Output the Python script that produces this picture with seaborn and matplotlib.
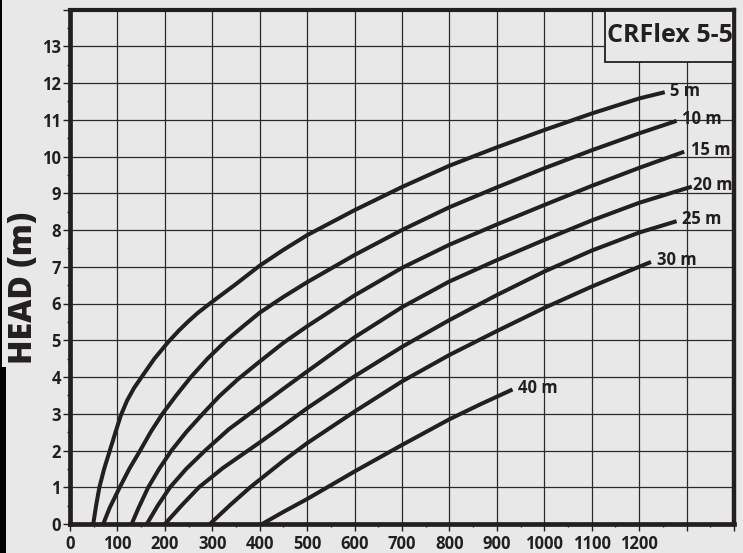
import numpy as np
import pandas as pd
import matplotlib
matplotlib.use("Agg")
import matplotlib.pyplot as plt
from matplotlib.patches import Rectangle
import seaborn as sns

# ---- data ----
flow_5 = [49, 55, 62, 72, 84, 96, 107, 120, 135, 151, 178, 207, 230, 250, 270, 295, 350,
          400, 450, 500, 600, 700, 800, 900, 1000, 1100, 1200, 1254]
head_5 = [0, 0.5, 1, 1.5, 2, 2.5, 2.95, 3.35, 3.7, 4, 4.5, 4.95, 5.27, 5.52, 5.75, 6.0, 6.53,
          7.03, 7.46, 7.86, 8.54, 9.17, 9.75, 10.25, 10.72, 11.17, 11.58, 11.75]

flow_10 = [70, 84, 105, 125, 148, 170, 195, 224, 255, 290, 330, 365, 400, 450, 500,
           600, 700, 800, 900, 1000, 1100, 1200, 1279]
head_10 = [0, 0.45, 1, 1.5, 2, 2.5, 3, 3.5, 4, 4.5, 5, 5.38, 5.75, 6.18, 6.58,
           7.32, 8.0, 8.62, 9.16, 9.68, 10.17, 10.63, 10.97]

flow_15 = [130, 145, 165, 188, 214, 245, 280, 315, 355, 400, 450, 500, 600, 700, 800,
           900, 1000, 1100, 1200, 1295]
head_15 = [0, 0.45, 1, 1.5, 2, 2.5, 3, 3.48, 3.95, 4.42, 4.93, 5.38, 6.22, 6.97, 7.6,
           8.15, 8.68, 9.2, 9.69, 10.13]

flow_20 = [162, 185, 211, 245, 285, 335, 400, 450, 500, 600, 700, 800, 900, 1000,
           1100, 1200, 1311]
head_20 = [0, 0.5, 1, 1.5, 2, 2.58, 3.2, 3.68, 4.15, 5.08, 5.9, 6.6, 7.18, 7.73,
           8.26, 8.74, 9.18]

flow_25 = [200, 235, 272, 322, 380, 400, 450, 500, 600, 700, 800, 900, 1000, 1100,
           1200, 1279]
head_25 = [0, 0.5, 1, 1.52, 2.04, 2.22, 2.68, 3.15, 4.02, 4.82, 5.55, 6.23, 6.87, 7.44,
           7.93, 8.24]

flow_30 = [295, 338, 380, 450, 500, 600, 700, 800, 900, 1000, 1100, 1200, 1225]
head_30 = [0, 0.52, 1.0, 1.72, 2.2, 3.06, 3.88, 4.6, 5.25, 5.88, 6.46, 7.0, 7.13]

flow_40 = [405, 450, 500, 600, 700, 800, 864, 933]
head_40 = [0, 0.33, 0.68, 1.43, 2.15, 2.85, 3.25, 3.66]

curve_labels = ["5 m", "10 m", "15 m", "20 m", "25 m", "30 m", "40 m"]
x_tick_values = list(range(0, 1500, 100))
x_tick_labels = [str(v) if v <= 1200 else "" for v in x_tick_values]
y_tick_values = list(range(0, 15))
y_tick_labels = [str(v) if v <= 13 else "" for v in y_tick_values]
title_text = "CRFlex 5-5"
y_label = "HEAD (m)"

flows = [flow_5, flow_10, flow_15, flow_20, flow_25, flow_30, flow_40]
heads = [head_5, head_10, head_15, head_20, head_25, head_30, head_40]

rows = []
for lab, fx, hy in zip(curve_labels, flows, heads):
    for i, (a, b) in enumerate(zip(fx, hy)):
        rows.append({"curve": lab, "order": i, "flow": a, "head": b})
df = pd.DataFrame(rows)

# ---- styling ----
BG = "#e8e8e8"
INK = "#231f20"
sns.set_theme(style="white")
plt.rcParams["font.family"] = ["Open Sans", "DejaVu Sans"]

W, H = 743, 553
fig = plt.figure(figsize=(W / 100, H / 100), dpi=100, facecolor=BG)
L, R, T, B = 70, 734, 9.5, 524
ax = fig.add_axes([L / W, (H - B) / H, (R - L) / W, (B - T) / H])
ax.set_facecolor(BG)

ax.set_xlim(0, 1400)
ax.set_ylim(0, 14)

ax.set_xticks(x_tick_values)
ax.set_xticklabels(x_tick_labels)
ax.set_xticks(list(range(50, 1400, 100)), minor=True)
ax.set_yticks(y_tick_values)
ax.set_yticklabels(y_tick_labels)
ax.set_yticks([v + 0.5 for v in range(0, 14)], minor=True)

ax.grid(True, which="major", color="#2a2a2a", linewidth=0.9)
ax.set_axisbelow(True)

sns.lineplot(data=df, x="flow", y="head", hue="curve", units="curve",
             estimator=None, sort=False, palette=[INK] * len(curve_labels),
             linewidth=2.9, legend=False, ax=ax, zorder=3)
for line in ax.lines:
    line.set_solid_capstyle("butt")
    line.set_solid_joinstyle("round")

# curve labels at the end of each curve
label_offsets = {"5 m": (11, 0.03), "10 m": (11, 0.05), "15 m": (14, 0.05),
                 "20 m": (3, 0.04), "25 m": (11, 0.05), "30 m": (12, 0.05),
                 "40 m": (12, 0.03)}
for lab, fx, hy in zip(curve_labels, flows, heads):
    dx, dy = label_offsets[lab]
    ax.text(fx[-1] + dx, hy[-1] + dy, lab, ha="left", va="center",
            fontsize=12, fontweight="bold", color=INK, zorder=4)

for s in ["left", "right", "top", "bottom"]:
    ax.spines[s].set_visible(True)
    ax.spines[s].set_color(INK)
ax.spines["left"].set_linewidth(3.4)
ax.spines["bottom"].set_linewidth(3.4)
ax.spines["right"].set_linewidth(3.2)
ax.spines["top"].set_linewidth(3.0)

ax.tick_params(axis="both", which="major", length=5, width=1.0, color=INK,
               labelsize=12, labelcolor=INK, pad=1.5)
ax.tick_params(axis="both", which="minor", length=2.5, width=1.0, color=INK)
ax.tick_params(axis="x", which="major", pad=3)
ax.tick_params(axis="x", which="both", bottom=True, direction="out")
ax.tick_params(axis="y", which="both", left=True, direction="out")
for t in ax.get_xticklabels() + ax.get_yticklabels():
    t.set_fontweight("bold")

ax.set_xlabel("")
ax.set_ylabel("")
fig.text(24 / W, 1 - 288 / H, y_label, rotation=90, ha="center", va="center",
         fontsize=23, fontweight="heavy", color=INK)

# title box
bx0 = (605 - L) / (R - L)
by0 = (B - 62) / (B - T)
ax.add_patch(Rectangle((bx0, by0), 1 - bx0 - 0.002, 1 - by0 - 0.002,
                       transform=ax.transAxes, facecolor=BG, edgecolor=INK,
                       linewidth=1.3, zorder=5))
ax.text((bx0 + 1) / 2, (by0 + 1) / 2, title_text, transform=ax.transAxes,
        ha="center", va="center", fontsize=18, fontweight="bold",
        color=INK, zorder=6)

# left border artifact of the original scan
fig.add_artist(Rectangle((0, (H - 367) / H), 2 / W, 367 / H, transform=fig.transFigure,
                         facecolor="black", edgecolor="none"))
fig.add_artist(Rectangle((0, 0), 6 / W, (H - 367) / H, transform=fig.transFigure,
                         facecolor="black", edgecolor="none"))

fig.savefig("out.png", dpi=100, facecolor=BG)
